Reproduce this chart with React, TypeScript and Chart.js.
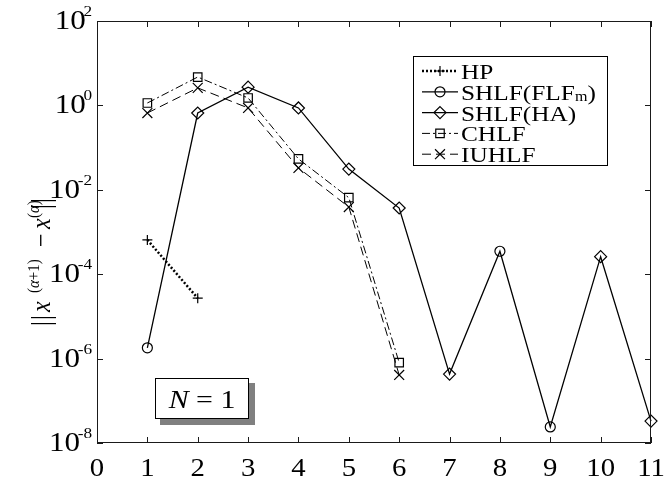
import React, { useEffect, useRef } from 'react';
import { Chart, registerables } from 'chart.js';

Chart.register(...registerables);

// ---- data ----
const xTickValues = [0, 1, 2, 3, 4, 5, 6, 7, 8, 9, 10, 11];
const yTickExponents = [-8, -6, -4, -2, 0, 2];

const hpSteps = [1, 2];
const hpValues = [6.5e-4, 2.7e-5];

const shlfSteps = [1, 2, 3, 4, 5, 6, 7, 8, 9, 10, 11];
const shlfValues = [1.8e-6, 0.66, 2.7, 0.87, 0.031, 0.0037, 4.3e-7, 3.5e-4, 2.4e-8, 2.6e-4, 3.3e-8];
const shlfMethod = ['FLF', 'HA', 'HA', 'HA', 'HA', 'HA', 'HA', 'FLF', 'FLF', 'HA', 'HA'];

const hlfSteps = [1, 2, 3, 4, 5, 6];
const chlfValues = [1.14, 4.7, 1.5, 0.054, 0.0065, 8e-7];
const iuhlfValues = [0.66, 2.6, 0.87, 0.033, 0.0039, 4.1e-7];

const legendNames = ['HP', 'SHLF(FLF', 'SHLF(HA)', 'CHLF', 'IUHLF'];

// ---- styling ----
const SERIF = '"Liberation Serif", "Times New Roman", serif';
const SX = 1.15; // horizontal glyph stretch used for all text
const INK = '#000';

const HP_DASH = [2, 2];
const CHLF_DASH = [8, 3, 2, 3];
const IUHLF_DASH = [9, 5];

type Marker = 'circle' | 'rectRot' | 'rect' | 'cross' | 'crossRot';

const legendStyles: { dash: number[]; width: number; marker: Marker; r: number }[] = [
  { dash: HP_DASH, width: 2.5, marker: 'cross', r: 5 },
  { dash: [], width: 1.3, marker: 'circle', r: 5 },
  { dash: [], width: 1.3, marker: 'rectRot', r: 6 },
  { dash: CHLF_DASH, width: 1, marker: 'rect', r: 6 },
  { dash: IUHLF_DASH, width: 1, marker: 'crossRot', r: 7 },
];

function pts(xs: number[], ys: number[]) {
  return xs.map((x, i) => ({ x, y: ys[i] }));
}

function drawMarker(ctx: CanvasRenderingContext2D, m: Marker, x: number, y: number, r: number) {
  ctx.save();
  ctx.setLineDash([]);
  ctx.lineWidth = 1.2;
  ctx.strokeStyle = INK;
  ctx.beginPath();
  if (m === 'circle') {
    ctx.arc(x, y, r, 0, Math.PI * 2);
  } else if (m === 'rectRot') {
    ctx.moveTo(x, y - r);
    ctx.lineTo(x + r, y);
    ctx.lineTo(x, y + r);
    ctx.lineTo(x - r, y);
    ctx.closePath();
  } else if (m === 'rect') {
    const s = Math.SQRT1_2 * r;
    ctx.rect(x - s, y - s, 2 * s, 2 * s);
  } else if (m === 'cross') {
    ctx.moveTo(x - r, y);
    ctx.lineTo(x + r, y);
    ctx.moveTo(x, y - r);
    ctx.lineTo(x, y + r);
  } else {
    const s = Math.SQRT1_2 * r;
    ctx.moveTo(x - s, y - s);
    ctx.lineTo(x + s, y + s);
    ctx.moveTo(x + s, y - s);
    ctx.lineTo(x - s, y + s);
  }
  ctx.stroke();
  ctx.restore();
}

function txt(
  ctx: CanvasRenderingContext2D,
  text: string,
  x: number,
  y: number,
  font: string,
  align: CanvasTextAlign = 'left'
) {
  ctx.save();
  ctx.translate(x, y);
  ctx.scale(SX, 1);
  ctx.font = font;
  ctx.textAlign = align;
  ctx.textBaseline = 'alphabetic';
  ctx.fillStyle = INK;
  ctx.fillText(text, 0, 0);
  ctx.restore();
}

function tw(ctx: CanvasRenderingContext2D, text: string, font: string) {
  ctx.save();
  ctx.font = font;
  const w = ctx.measureText(text).width;
  ctx.restore();
  return w * SX;
}

const decorPlugin = {
  id: 'decor',
  afterDraw(chart: any) {
    const ctx: CanvasRenderingContext2D = chart.ctx;
    const { left, right, top, bottom } = chart.chartArea;
    const xs = chart.scales.x;
    const ys = chart.scales.y;

    // frame and inward ticks
    ctx.save();
    ctx.strokeStyle = '#1a1a1a';
    ctx.lineWidth = 1;
    ctx.setLineDash([]);
    ctx.strokeRect(left + 0.5, top + 0.5, right - left - 1, bottom - top - 1);
    ctx.beginPath();
    xTickValues.forEach((v) => {
      const px = Math.round(xs.getPixelForValue(v)) + 0.5;
      ctx.moveTo(px, bottom);
      ctx.lineTo(px, bottom - 6);
      ctx.moveTo(px, top);
      ctx.lineTo(px, top + 6);
    });
    yTickExponents.forEach((e) => {
      const py = Math.round(ys.getPixelForValue(Math.pow(10, e))) + 0.5;
      ctx.moveTo(left, py);
      ctx.lineTo(left + 6, py);
      ctx.moveTo(right, py);
      ctx.lineTo(right - 6, py);
    });
    ctx.stroke();
    ctx.restore();

    // x tick labels
    const tickFont = `25px ${SERIF}`;
    xTickValues.forEach((v) => {
      txt(ctx, String(v), xs.getPixelForValue(v), 476, tickFont, 'center');
    });

    // y tick labels: 10 with a raised exponent
    const baseFont = `27px ${SERIF}`;
    const supFont = `15px ${SERIF}`;
    yTickExponents.forEach((e) => {
      const py = ys.getPixelForValue(Math.pow(10, e));
      const sup = String(e);
      const supRight = left - 5;
      const supW = tw(ctx, sup, supFont);
      txt(ctx, sup, supRight, py - 5, supFont, 'right');
      txt(ctx, '10', supRight - supW + 2.5, py + 8, baseFont, 'right');
    });

    // y axis title, rotated
    ctx.save();
    ctx.translate(50, 328);
    ctx.scale(SX, 1);
    ctx.rotate(-Math.PI / 2);
    ctx.fillStyle = INK;
    ctx.textBaseline = 'alphabetic';
    const mainF = `24px ${SERIF}`;
    const italF = `italic 24px ${SERIF}`;
    const smallF = `15px ${SERIF}`;
    const smallItalF = `italic 15px ${SERIF}`;
    const put = (t: string, s: number, y: number, f: string) => {
      ctx.font = f;
      ctx.fillText(t, s, y);
      return s + ctx.measureText(t).width;
    };
    put('|', 2, 0, mainF);
    put('|', 8, 0, mainF);
    put('x', 16, 0, italF);
    let s = put('(', 35, -10, smallF);
    s = put('α', s, -10, smallItalF);
    put('+1)', s, -10, smallF);
    put('−', 81, 0, mainF);
    put('x', 99, 0, italF);
    s = put('(', 110, -10, smallF);
    s = put('α', s, -10, smallItalF);
    put(')', s, -10, smallF);
    put('|', 119, 0, mainF);
    put('|', 125, 0, mainF);
    ctx.restore();

    // legend box
    const lx0 = 413, ly0 = 56, lx1 = 608, ly1 = 166;
    ctx.save();
    ctx.fillStyle = '#fff';
    ctx.fillRect(lx0, ly0, lx1 - lx0, ly1 - ly0);
    ctx.strokeStyle = INK;
    ctx.lineWidth = 1;
    ctx.strokeRect(lx0 + 0.5, ly0 + 0.5, lx1 - lx0 - 1, ly1 - ly0 - 1);
    ctx.restore();
    const legFont = `22px ${SERIF}`;
    const legSub = `14px ${SERIF}`;
    legendNames.forEach((name, i) => {
      const st = legendStyles[i];
      const base = 79 + i * 20.8;
      const ly = base - 8;
      ctx.save();
      ctx.strokeStyle = INK;
      ctx.lineWidth = st.width;
      ctx.setLineDash(st.dash);
      ctx.beginPath();
      ctx.moveTo(422, ly);
      ctx.lineTo(458, ly);
      ctx.stroke();
      ctx.restore();
      drawMarker(ctx, st.marker, 440, ly, st.r);
      txt(ctx, name, 461, base, legFont);
      if (i === 1) {
        const w = tw(ctx, name, legFont);
        txt(ctx, 'm', 461 + w, base + 1, legSub);
        const wm = tw(ctx, 'm', legSub);
        txt(ctx, ')', 461 + w + wm, base, legFont);
      }
    });

    // annotation box with shadow
    ctx.save();
    ctx.fillStyle = '#808080';
    ctx.fillRect(160, 383, 95, 42);
    ctx.fillStyle = '#fff';
    ctx.fillRect(155, 378, 94, 41);
    ctx.strokeStyle = INK;
    ctx.lineWidth = 1;
    ctx.strokeRect(155.5, 378.5, 93, 40);
    ctx.restore();
    const nF = `italic 26px ${SERIF}`;
    const eqF = `26px ${SERIF}`;
    const wN = tw(ctx, 'N', nF);
    const wEq = tw(ctx, ' = 1', eqF);
    const startX = 202 - (wN + wEq) / 2;
    txt(ctx, 'N', startX, 408, nF);
    txt(ctx, ' = 1', startX + wN, 408, eqF);
  },
};

export default function App() {
  const ref = useRef<HTMLCanvasElement>(null);

  useEffect(() => {
    const canvas = ref.current;
    if (!canvas) return;
    const chart = new Chart(canvas, {
      type: 'line',
      data: {
        datasets: [
          {
            label: 'HP',
            data: pts(hpSteps, hpValues),
            borderColor: INK,
            borderWidth: 2.5,
            borderDash: HP_DASH,
            pointStyle: 'cross',
            pointRadius: 5,
            pointBorderWidth: 1.2,
            pointBorderColor: INK,
            pointBackgroundColor: 'rgba(0,0,0,0)',
            clip: false,
          },
          {
            label: 'SHLF',
            data: pts(shlfSteps, shlfValues),
            borderColor: INK,
            borderWidth: 1.3,
            pointStyle: (c: any) => (shlfMethod[c.dataIndex] === 'FLF' ? 'circle' : 'rectRot'),
            pointRadius: (c: any) => (shlfMethod[c.dataIndex] === 'FLF' ? 5 : 6),
            pointBorderWidth: 1.2,
            pointBorderColor: INK,
            pointBackgroundColor: 'rgba(0,0,0,0)',
            clip: false,
          },
          {
            label: 'CHLF',
            data: pts(hlfSteps, chlfValues),
            borderColor: INK,
            borderWidth: 1,
            borderDash: CHLF_DASH,
            pointStyle: 'rect',
            pointRadius: 6,
            pointBorderWidth: 1.2,
            pointBorderColor: INK,
            pointBackgroundColor: 'rgba(0,0,0,0)',
            clip: false,
          },
          {
            label: 'IUHLF',
            data: pts(hlfSteps, iuhlfValues),
            borderColor: INK,
            borderWidth: 1,
            borderDash: IUHLF_DASH,
            pointStyle: 'crossRot',
            pointRadius: 7,
            pointBorderWidth: 1.2,
            pointBorderColor: INK,
            pointBackgroundColor: 'rgba(0,0,0,0)',
            clip: false,
          },
        ] as any,
      },
      options: {
        animation: false,
        responsive: false,
        maintainAspectRatio: false,
        layout: { padding: { left: 97, right: 17, top: 21, bottom: 40 } },
        plugins: { legend: { display: false }, tooltip: { enabled: false } },
        elements: { line: { tension: 0 } },
        scales: {
          x: {
            type: 'linear',
            min: 0,
            max: 11,
            ticks: { display: false, stepSize: 1 },
            grid: { display: false, drawTicks: false },
            border: { display: false },
          },
          y: {
            type: 'logarithmic',
            min: 1e-8,
            max: 1e2,
            ticks: { display: false },
            grid: { display: false, drawTicks: false },
            border: { display: false },
          },
        },
      },
      plugins: [decorPlugin],
    });
    return () => chart.destroy();
  }, []);

  return (
    <div style={{ position: 'absolute', left: 0, top: 0, width: 668, height: 483, background: '#fff' }}>
      <canvas ref={ref} width={668} height={483} style={{ display: 'block', width: 668, height: 483 }} />
    </div>
  );
}
